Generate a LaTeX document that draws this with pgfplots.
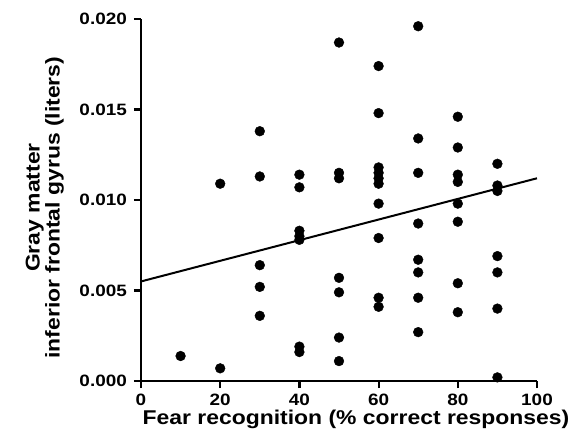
\documentclass[border=0pt]{standalone}
\usepackage{fontspec}
\setmainfont{Liberation Sans}[FakeStretch=1.15]
\usepackage{pgfplots}
\pgfplotsset{compat=1.18}

\begin{document}
\begin{tikzpicture}
\begin{axis}[
  scale only axis, width=396bp, height=362bp,
  xmin=0, xmax=100, ymin=0, ymax=0.020,
  axis lines=left, axis line style={-, line width=2.2bp},
  xtick={0,20,40,60,80,100}, ytick={0,0.005,0.010,0.015,0.020},
  tick align=outside, major tick length=7bp,
  tick style={line width=2.2bp, black},
  scaled y ticks=false,
  xticklabel style={inner sep=0pt, yshift=-6bp},
  yticklabel style={inner sep=0pt, xshift=-7bp,
    /pgf/number format/fixed, /pgf/number format/fixed zerofill,
    /pgf/number format/precision=3},
  /pgf/number format/assume math mode=true,
  tick label style={font=\fontsize{16.5}{18}\selectfont\bfseries},
  label style={font=\fontsize{20}{20}\selectfont\bfseries},
  xlabel={Fear recognition (\% correct responses)},
  xlabel style={inner sep=0pt, at={(axis description cs:0.543,-0.1215)}, anchor=base},
  ylabel={Gray matter\\inferior frontal gyrus (liters)},
  ylabel style={align=center, inner sep=0pt,
    at={(axis description cs:-0.1944,0.479)}, anchor=south},
  clip=false,
]
\addplot[only marks, mark=*, mark size=4.9bp, black] coordinates {
  (10,0.00138)
  (20,0.0109) (20,0.0007)
  (30,0.0138) (30,0.0113) (30,0.0064) (30,0.0052) (30,0.0036)
  (40,0.0114) (40,0.0107) (40,0.0083) (40,0.0080) (40,0.0078) (40,0.0019) (40,0.0016)
  (50,0.0187) (50,0.0115) (50,0.0112) (50,0.0057) (50,0.0049) (50,0.0024) (50,0.0011)
  (60,0.0174) (60,0.0148) (60,0.0118) (60,0.0115) (60,0.0112) (60,0.0109) (60,0.0098) (60,0.0079) (60,0.0046) (60,0.0041)
  (70,0.0196) (70,0.0134) (70,0.0115) (70,0.0087) (70,0.0067) (70,0.0060) (70,0.0046) (70,0.0027)
  (80,0.0146) (80,0.0129) (80,0.0114) (80,0.0110) (80,0.0098) (80,0.0088) (80,0.0054) (80,0.0038)
  (90,0.0120) (90,0.0108) (90,0.0105) (90,0.0069) (90,0.0060) (90,0.0040) (90,0.0002)
};
\addplot[black, line width=2bp] coordinates {(0,0.0055) (100,0.0112)};
\end{axis}
\pgfresetboundingbox
\useasboundingbox (-141bp,-66bp) rectangle (433bp,381bp);
\end{tikzpicture}
\end{document}
